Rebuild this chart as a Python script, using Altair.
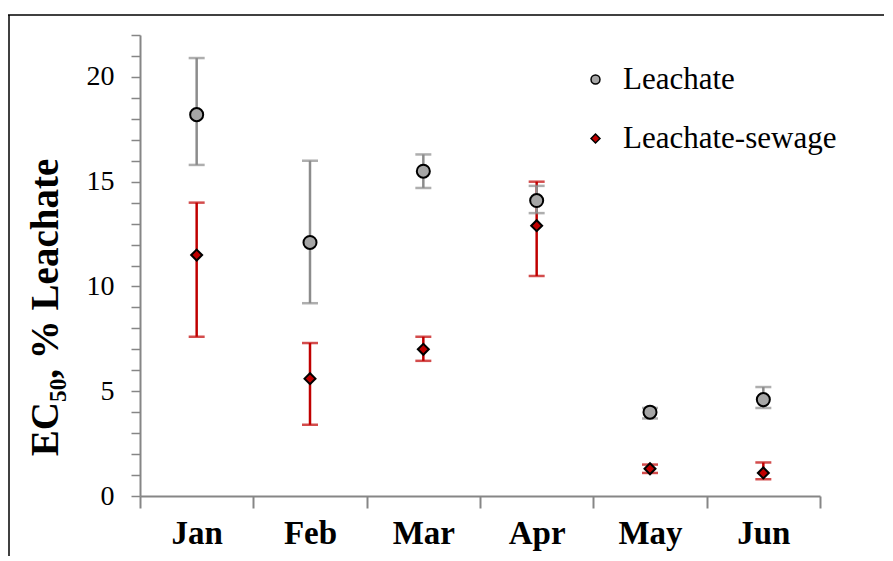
import altair as alt
import pandas as pd

months = ["Jan", "Feb", "Mar", "Apr", "May", "Jun"]
series_names = ["Leachate", "Leachate-sewage"]

leach = [18.2, 12.1, 15.5, 14.1, 4.0, 4.6]
leach_lo = [15.8, 9.2, 14.7, 13.5, 3.7, 4.2]
leach_hi = [20.9, 16.0, 16.3, 14.8, 4.2, 5.2]

sew = [11.5, 5.6, 7.0, 12.9, 1.3, 1.1]
sew_lo = [7.6, 3.4, 6.45, 10.5, 1.1, 0.8]
sew_hi = [14.0, 7.3, 7.6, 15.0, 1.5, 1.6]

rows = []
for s, v, lo, hi in [(series_names[0], leach, leach_lo, leach_hi),
                     (series_names[1], sew, sew_lo, sew_hi)]:
    for m, a, b, c in zip(months, v, lo, hi):
        rows.append({"month": m, "series": s, "value": a, "lo": b, "hi": c})
df = pd.DataFrame(rows)

FONT = "Liberation Serif"
GRAY_ERR = "#8c8c8c"
RED = "#c00000"
GRAY_FILL = "#a6a6a6"

x_enc = alt.X("month:N", sort=months, title=None,
              scale=alt.Scale(paddingInner=0, paddingOuter=0),
              axis=alt.Axis(labelAngle=0, tickBand="extent", tickSize=12,
                            labelPadding=9, labelFont=FONT, labelFontSize=33,
                            labelFontWeight="bold", labelColor="black",
                            domainColor="#868686", tickColor="#868686",
                            domainWidth=2, tickWidth=2))

y_scale = alt.Scale(domain=[0, 22], nice=False)
y_axis = alt.Axis(values=list(range(0, 23)),
                  labelExpr="datum.value % 5 == 0 ? datum.label : ''",
                  grid=False, tickSize=9, labelPadding=17,
                  labelFont=FONT, labelFontSize=28, labelColor="black",
                  domainColor="#868686", tickColor="#868686",
                  domainWidth=2, tickWidth=1.5,
                  title="EC\u2085\u2080, % Leachate", titleFont=FONT,
                  titleFontSize=39, titleFontWeight="bold", titleColor="black",
                  titleAngle=-90, titleX=-95, titleY=272,
                  titleBaseline="middle", titleAlign="center")

base = alt.Chart(df)


def err_layers(name, color):
    d = base.transform_filter(alt.datum.series == name)
    rule = d.mark_rule(color=color, strokeWidth=2.5).encode(
        x=x_enc, y=alt.Y("lo:Q", scale=y_scale, axis=y_axis), y2="hi:Q")
    cap_lo = d.mark_tick(color=color, thickness=2.5, size=16).encode(
        x=x_enc, y=alt.Y("lo:Q", scale=y_scale, axis=y_axis))
    cap_hi = d.mark_tick(color=color, thickness=2.5, size=16).encode(
        x=x_enc, y=alt.Y("hi:Q", scale=y_scale, axis=y_axis))
    return [rule, cap_lo, cap_hi]


def make_legend():
    return alt.Legend(title=None, orient="none", legendX=440, legendY=29,
                      labelFont=FONT, labelFontSize=31, labelColor="black",
                      labelLimit=0, symbolSize=80, rowPadding=27,
                      labelOffset=12, symbolStrokeWidth=1.5,
                      symbolStrokeColor="black")


points = base.mark_point(filled=True, strokeWidth=2, opacity=1).encode(
    x=x_enc,
    y=alt.Y("value:Q", scale=y_scale, axis=y_axis),
    fill=alt.Fill("series:N", sort=series_names,
                  scale=alt.Scale(domain=series_names, range=[GRAY_FILL, RED]),
                  legend=make_legend()),
    stroke=alt.Stroke("series:N", sort=series_names,
                      scale=alt.Scale(domain=series_names,
                                      range=["black", "black"]),
                      legend=make_legend()),
    shape=alt.Shape("series:N", sort=series_names,
                    scale=alt.Scale(domain=series_names,
                                    range=["circle", "diamond"]),
                    legend=make_legend()),
    size=alt.condition(alt.datum.series == "Leachate", alt.value(170),
                       alt.value(120)),
)

frame_df = pd.DataFrame({"a": [0]})
frame_top = alt.Chart(frame_df).mark_rule(color="black", strokeWidth=1.5).encode(
    x=alt.value(-132), x2=alt.value(900), y=alt.value(-20))
frame_left = alt.Chart(frame_df).mark_rule(color="black", strokeWidth=1.5).encode(
    x=alt.value(-131), y=alt.value(-20), y2=alt.value(700))

layers = [frame_top, frame_left] + err_layers(series_names[1], RED) + \
    err_layers(series_names[0], GRAY_ERR) + [points]

chart = alt.layer(*layers).properties(
    width=680, height=461,
    autosize=alt.AutoSizeParams(type="none"),
    padding={"left": 132, "top": 27, "right": 64, "bottom": 60},
    background="white",
).configure_view(stroke=None)

chart.save("out.html", embed_options={"renderer": "svg", "actions": False})
